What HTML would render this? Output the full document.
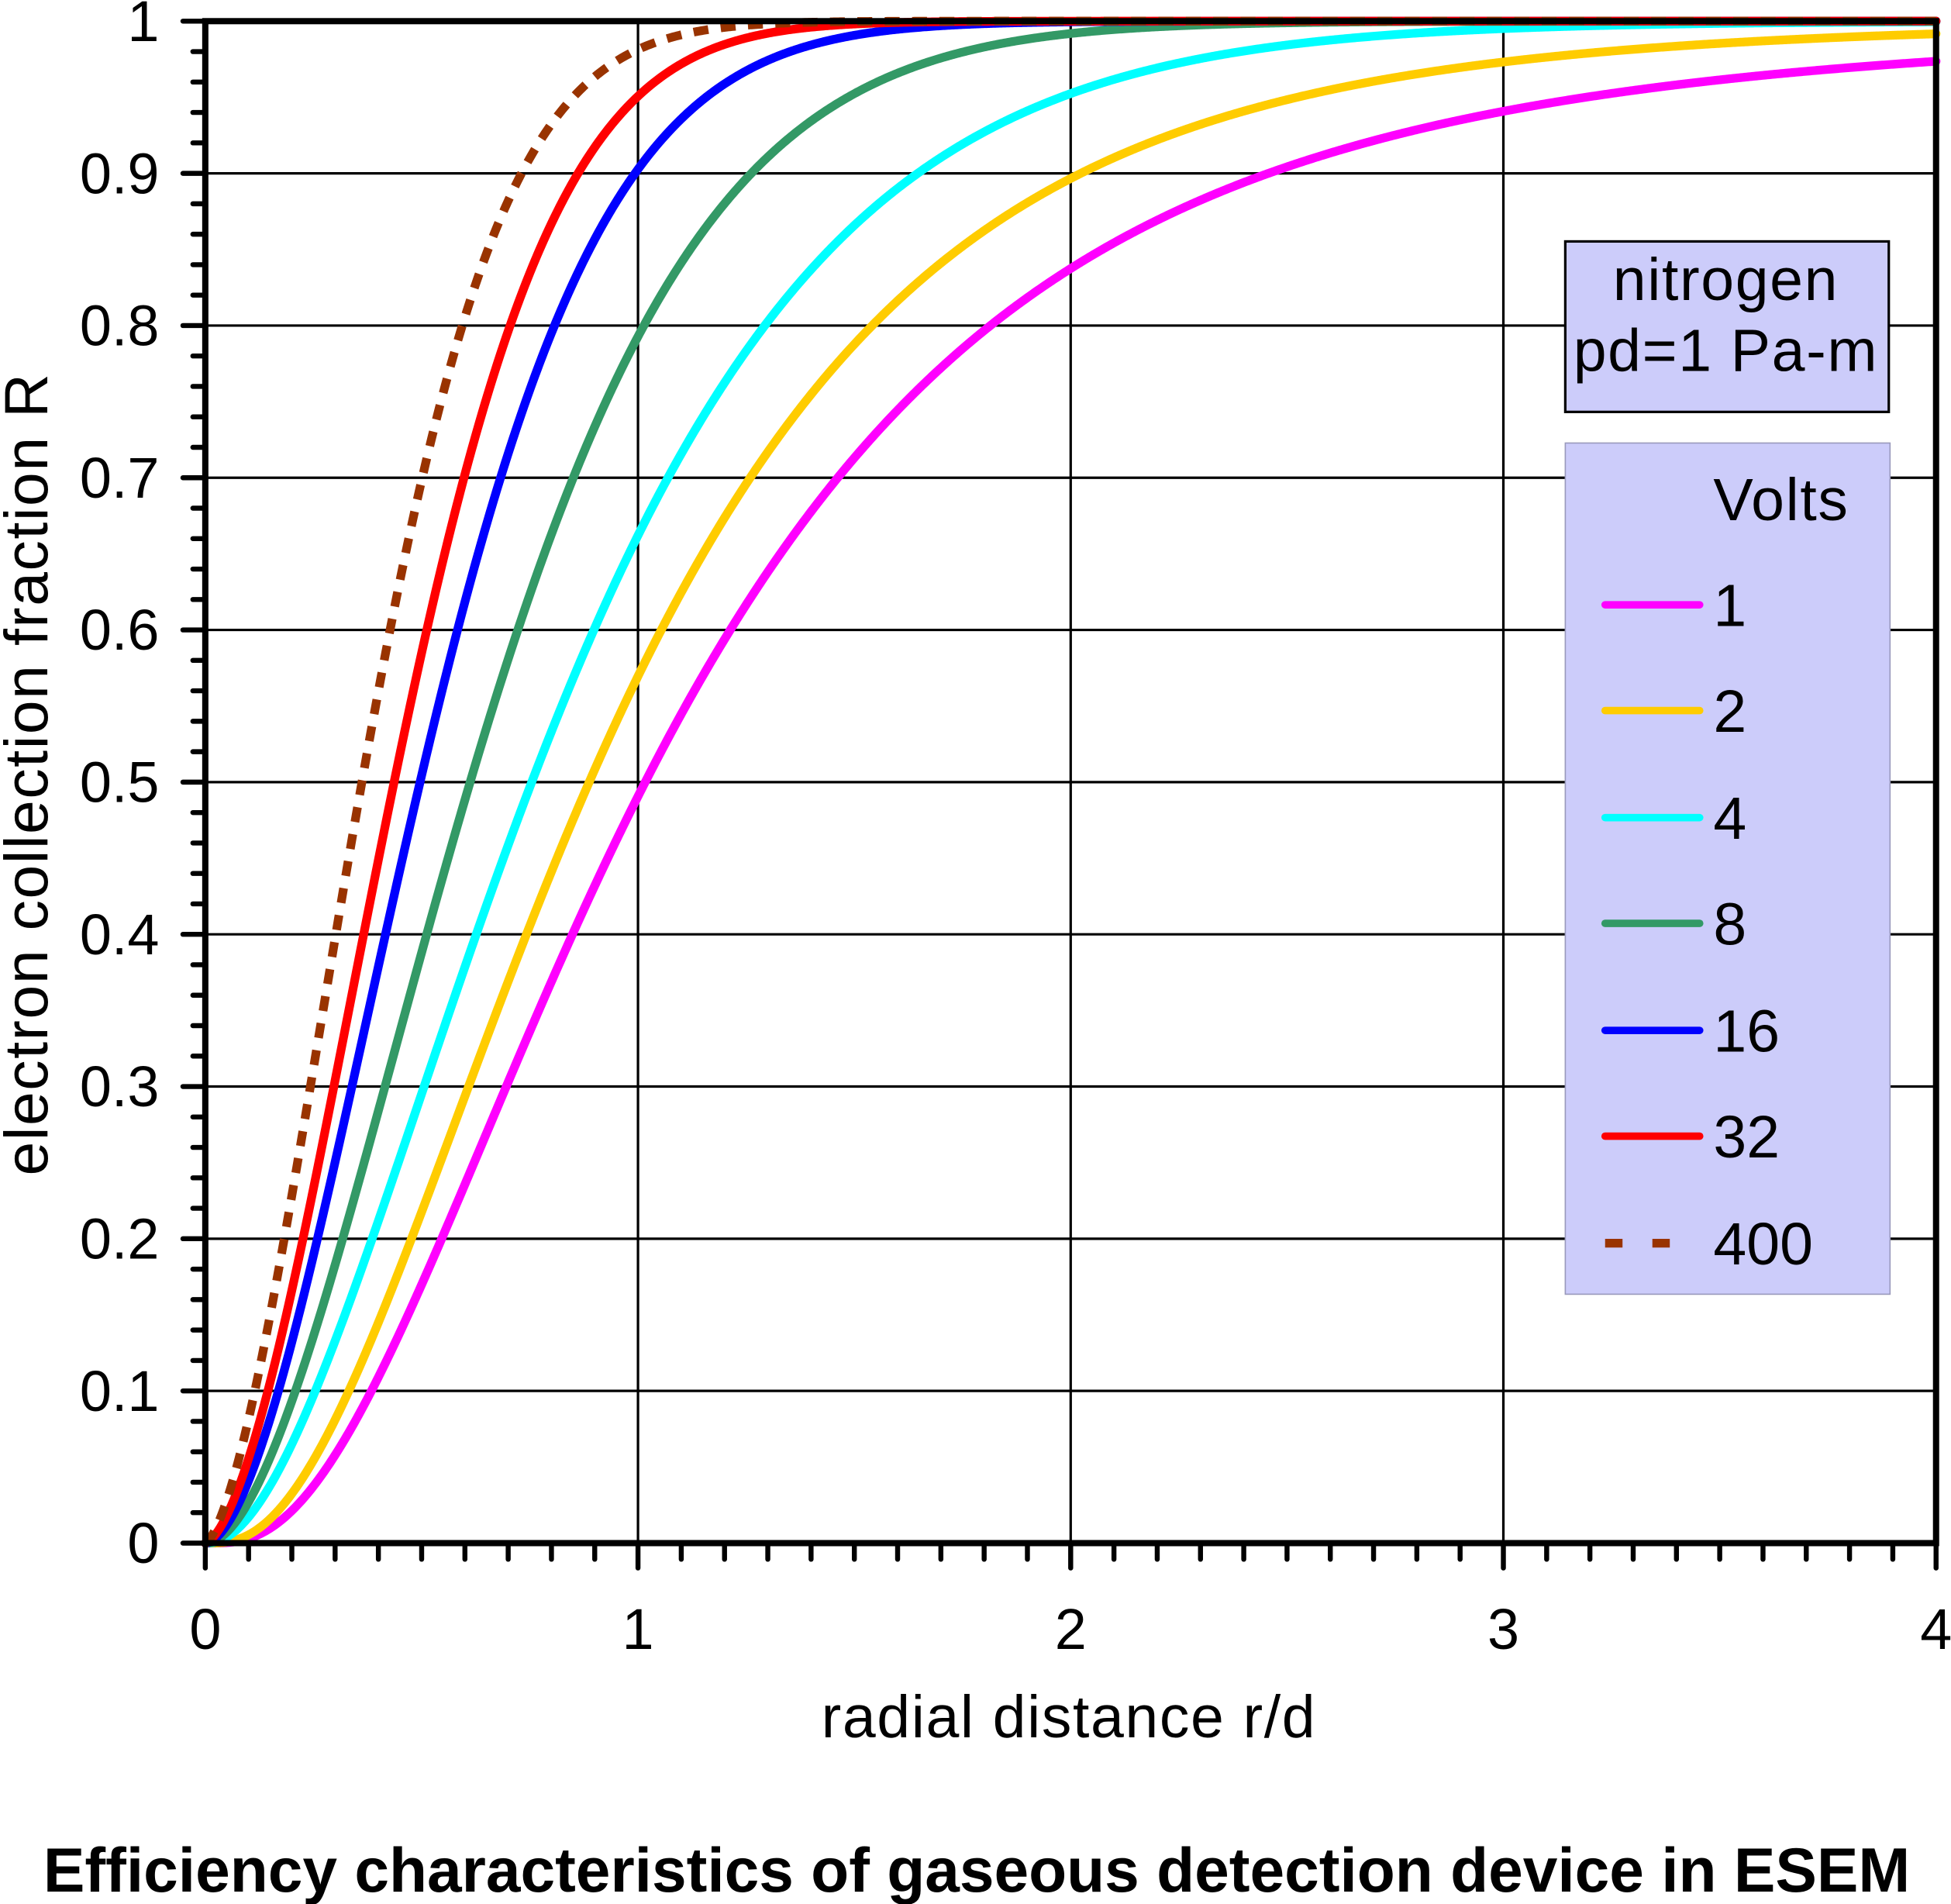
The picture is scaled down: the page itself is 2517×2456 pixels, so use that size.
<!DOCTYPE html>
<html><head><meta charset="utf-8"><style>
html,body{margin:0;padding:0;background:#fff;}
svg{display:block;}
text{font-family:"Liberation Sans",Arial,sans-serif;fill:#000;}
</style></head><body>
<svg id="s" xmlns="http://www.w3.org/2000/svg" width="2517" height="2456" viewBox="0 0 1568 1530" preserveAspectRatio="none">
<rect width="1568" height="1530" fill="#fff"/>
<g id="grid" stroke="#000" stroke-width="2"></g>
<g id="curves" fill="none" stroke-width="7" stroke-linecap="round" stroke-linejoin="round"></g>
<rect x="1258" y="194" width="260" height="137" fill="#ccccfa" stroke="#000" stroke-width="2"/>
<text x="1387" y="241" font-size="48" text-anchor="middle" letter-spacing="1">nitrogen</text>
<text x="1387" y="298" font-size="48" text-anchor="middle" letter-spacing="1">pd=1 Pa-m</text>
<rect x="1258" y="356" width="261" height="684" fill="#ccccfa" stroke="#9999bb" stroke-width="1"/>
<text x="1377" y="418" font-size="48" letter-spacing="1">Volts</text>
<g id="leg" stroke-width="6" stroke-linecap="round"></g>
<g id="axes" stroke="#000"></g>
<g id="labels" font-size="46"></g>
<text x="859" y="1396" font-size="48" text-anchor="middle" letter-spacing="1">radial distance r/d</text>
<text transform="translate(38,622) rotate(-90)" font-size="49" text-anchor="middle" letter-spacing="1">electron collection fraction R</text>
<text x="785" y="1520" font-size="50" font-weight="bold" text-anchor="middle">Efficiency characteristics of gaseous detection device in ESEM</text>
</svg>
<script>
var NS="http://www.w3.org/2000/svg";
function el(p,t,a){var e=document.createElementNS(NS,t);for(var k in a)e.setAttribute(k,a[k]);p.appendChild(e);return e;}
var X0=165,X1=1556,Y0=1240,Y1=17,XU=(X1-X0)/4;
function Y(v){return Y0-(Y0-Y1)*v;}
var g=document.getElementById('grid');
for(var i=1;i<=9;i++){el(g,'line',{x1:X0,x2:X1,y1:Y(i/10),y2:Y(i/10)});}
for(var i=1;i<=3;i++){var x=X0+XU*i;el(g,'line',{x1:x,x2:x,y1:Y1,y2:Y0});}
var data=[
["#ff00ff",[[237,0.021],[292,0.1],[348,0.2],[401,0.3],[459,0.4],[496,0.454],[520,0.5],[594,0.6],[687,0.7],[814,0.8],[861,0.825],[934,0.861],[1040,0.9],[1209,0.94],[1400,0.964],[1556,0.978],[1556,0.978]]],
["#ffcc00",[[219,0.017],[279,0.1],[328,0.2],[375,0.3],[423,0.4],[451,0.454],[474,0.5],[533,0.6],[606,0.7],[706,0.8],[798,0.861],[860,0.895],[1060,0.952],[1209,0.973],[1400,0.986],[1556,0.993]]],
["#00ffff",[[205,0.025],[262,0.1],[304,0.2],[346,0.3],[383,0.4],[405,0.454],[436,0.525],[468,0.6],[523,0.7],[599,0.8],[666,0.861],[724,0.9],[850,0.958],[1209,0.99]]],
["#339966",[[200,0.03],[244,0.1],[279,0.2],[312,0.3],[343,0.4],[360,0.454],[426,0.625],[448,0.7],[503,0.8],[550,0.861],[585,0.9],[690,0.958],[820,0.982],[860,0.988]]],
["#0000ff",[[195,0.035],[229,0.1],[259,0.2],[285,0.3],[310,0.4],[324,0.454],[377,0.625],[395,0.7],[434,0.8],[471,0.861],[497,0.9],[512,0.914],[602,0.972],[733,0.989]]],
["#ff0000",[[190,0.035],[218,0.1],[247,0.2],[269,0.3],[292,0.4],[306,0.454],[351,0.625],[364,0.7],[401,0.8],[453,0.9],[512,0.952],[558,0.977],[646,0.992]]],
["#993300",[[185,0.04],[210,0.1],[233,0.2],[251,0.3],[269,0.4],[279,0.454],[322,0.625],[333,0.7],[362,0.8],[403,0.9],[436,0.95],[480,0.97],[537,0.984],[602,0.993]],1]
];
function solve(A,b){var n=b.length;for(var i=0;i<n;i++){var p=i;for(var j=i+1;j<n;j++)if(Math.abs(A[j][i])>Math.abs(A[p][i]))p=j;
var t=A[i];A[i]=A[p];A[p]=t;t=b[i];b[i]=b[p];b[p]=t;for(var j=i+1;j<n;j++){var f=A[j][i]/A[i][i];for(var k=i;k<n;k++)A[j][k]-=f*A[i][k];b[j]-=f*b[i];}}
var x=[];for(var i=n-1;i>=0;i--){var s=b[i];for(var k=i+1;k<n;k++)s-=A[i][k]*x[k];x[i]=s/A[i][i];}return x;}
function fit(pts){var deg=2,A=[],b=[];for(var i=0;i<=deg;i++){A.push([0,0,0]);b.push(0);}
pts.forEach(function(p){var w=Math.log((p[0]-X0)/XU),u=Math.log(-Math.log(1-p[1]));var pw=[1,w,w*w];
for(var i=0;i<=deg;i++){for(var j=0;j<=deg;j++)A[i][j]+=pw[i]*pw[j];b[i]+=pw[i]*u;}});
var c=solve(A,b);return function(r){var w=Math.log(r);var u=c[0]+c[1]*w+c[2]*w*w;return 1-Math.exp(-Math.exp(u));};}
function path(f){var s="M"+X0+","+Y0;for(var px=1;px<=X1-X0;px+=1){var r=px/XU;var v=f(r);s+=" L"+(X0+px)+","+Y(v).toFixed(2);}return s;}
var cg=document.getElementById('curves'),lg=document.getElementById('leg');
var ly=[486,571,657,742,828,913,999];
data.forEach(function(s,i){var a={d:path(fit(s[1])),stroke:s[0]};if(s[2]){a['stroke-dasharray']='12 10';a['stroke-width']=7;a['stroke-linecap']='butt';}
el(cg,'path',a);
var b={x1:1290,x2:1366,y1:ly[i],y2:ly[i],stroke:s[0]};if(s[2]){b['stroke-dasharray']='14 24';b['stroke-width']=7;b['stroke-linecap']='butt';b.x2=1352;}
el(lg,'line',b);});
var labs=["1","2","4","8","16","32","400"];
var lb=document.getElementById('labels');
labs.forEach(function(t,i){var e=el(lb,'text',{x:1377,y:ly[i]+17,'font-size':48});e.textContent=t;});
var ax=document.getElementById('axes');
el(ax,'rect',{x:X0,y:Y1,width:X1-X0,height:Y0-Y1,fill:'none','stroke-width':5});
for(var i=0;i<=50;i++){var y=Y(i/50);var L=(i%5==0)?18:10;el(ax,'line',{x1:X0-L,x2:X0,y1:y,y2:y,'stroke-width':4,'stroke-linecap':'round'});}
for(var i=0;i<=40;i++){var x=X0+XU*i/10;var L=(i%10==0)?20:13;el(ax,'line',{x1:x,x2:x,y1:Y0,y2:Y0+L,'stroke-width':4,'stroke-linecap':'round'});}
var yl=["0","0.1","0.2","0.3","0.4","0.5","0.6","0.7","0.8","0.9","1"];
yl.forEach(function(t,i){var e=el(lb,'text',{x:128,y:Y(i/10)+16,'text-anchor':'end'});e.textContent=t;});
for(var i=0;i<=4;i++){var e=el(lb,'text',{x:X0+XU*i,y:1325,'text-anchor':'middle'});e.textContent=String(i);}
</script>
</body></html>
